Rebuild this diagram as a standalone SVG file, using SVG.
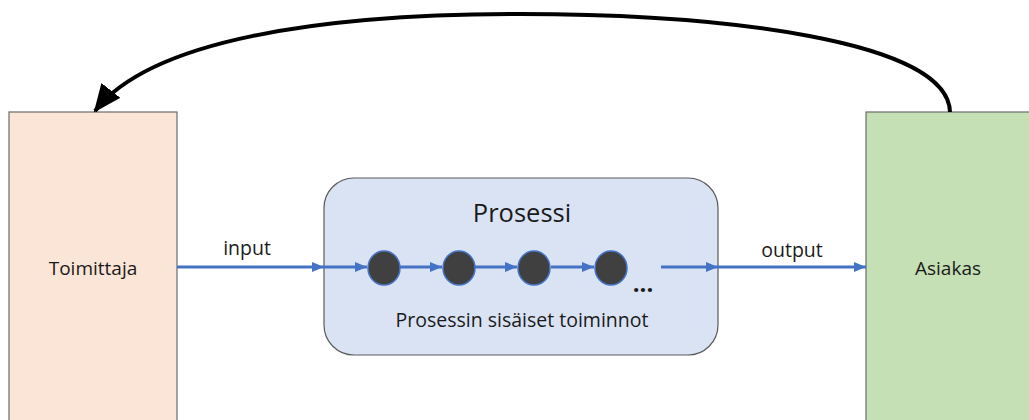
<svg xmlns="http://www.w3.org/2000/svg" width="1029" height="420" viewBox="0 0 1029 420">
  <style>
    .lbl { font-family: "Open Sans", "Liberation Sans", sans-serif; fill: #1a1a1a; text-anchor: middle; }
    .flow { stroke: #4472c4; stroke-width: 3; fill: none; marker-end: url(#blueArrow); }
    .step { fill: #404040; stroke: #4472c4; stroke-width: 1.5; }
  </style>
  <defs>
    <marker id="blueArrow" markerWidth="12" markerHeight="10" refX="12" refY="5" orient="auto" markerUnits="userSpaceOnUse">
      <path d="M0,0 L12,5 L0,10 Z" fill="#4472c4"/>
    </marker>
    <marker id="blackArrow" markerWidth="28" markerHeight="24" refX="26" refY="12" orient="auto" markerUnits="userSpaceOnUse">
      <path d="M0,0 L28,12 L0,24 Z" fill="#000"/>
    </marker>
  </defs>

  <!-- Supplier -->
  <g id="toimittaja">
    <rect x="9" y="112" width="168" height="320" fill="#fbe5d6" stroke="#6b6b6b" stroke-width="1.2"/>
    <text class="lbl" x="93" y="275" font-size="19">Toimittaja</text>
  </g>

  <!-- Customer -->
  <g id="asiakas">
    <rect x="866" y="112" width="180" height="320" fill="#c5e0b4" stroke="#6b6b6b" stroke-width="1.2"/>
    <text class="lbl" x="948" y="275" font-size="19">Asiakas</text>
  </g>

  <!-- Process container -->
  <g id="prosessi">
    <rect x="324" y="178" width="394" height="177" rx="30" ry="30" fill="#dae3f3" stroke="#5a5a5a" stroke-width="1.2"/>
    <text class="lbl" x="522" y="222" font-size="25.5">Prosessi</text>
    <text class="lbl" x="522" y="327" font-size="19.5">Prosessin sisäiset toiminnot</text>
    <text class="lbl" x="643" y="292" font-size="24" font-weight="bold">...</text>
  </g>

  <!-- Internal steps -->
  <g id="vaihe1"><ellipse class="step" cx="384" cy="268" rx="16" ry="17"/></g>
  <g id="vaihe2"><ellipse class="step" cx="459" cy="268" rx="16" ry="17"/></g>
  <g id="vaihe3"><ellipse class="step" cx="534" cy="268" rx="16" ry="17"/></g>
  <g id="vaihe4"><ellipse class="step" cx="611" cy="268" rx="16" ry="17"/></g>

  <!-- Connectors -->
  <g id="connectors">
    <line class="flow" x1="177" y1="267" x2="324" y2="267"/>
    <line class="flow" x1="324" y1="267" x2="367" y2="267"/>
    <line class="flow" x1="400" y1="267" x2="442" y2="267"/>
    <line class="flow" x1="475" y1="267" x2="517" y2="267"/>
    <line class="flow" x1="551" y1="267" x2="594" y2="267"/>
    <line class="flow" x1="661" y1="267" x2="718" y2="267"/>
    <line class="flow" x1="718" y1="267" x2="866" y2="267"/>
    <text class="lbl" x="247" y="255" font-size="19.5">input</text>
    <text class="lbl" x="792" y="257" font-size="19.5">output</text>
    <path d="M950,112 C948,40 720,14 520,14 C320,14 150,40 95,111" fill="none" stroke="#000" stroke-width="4" marker-end="url(#blackArrow)"/>
  </g>
</svg>
